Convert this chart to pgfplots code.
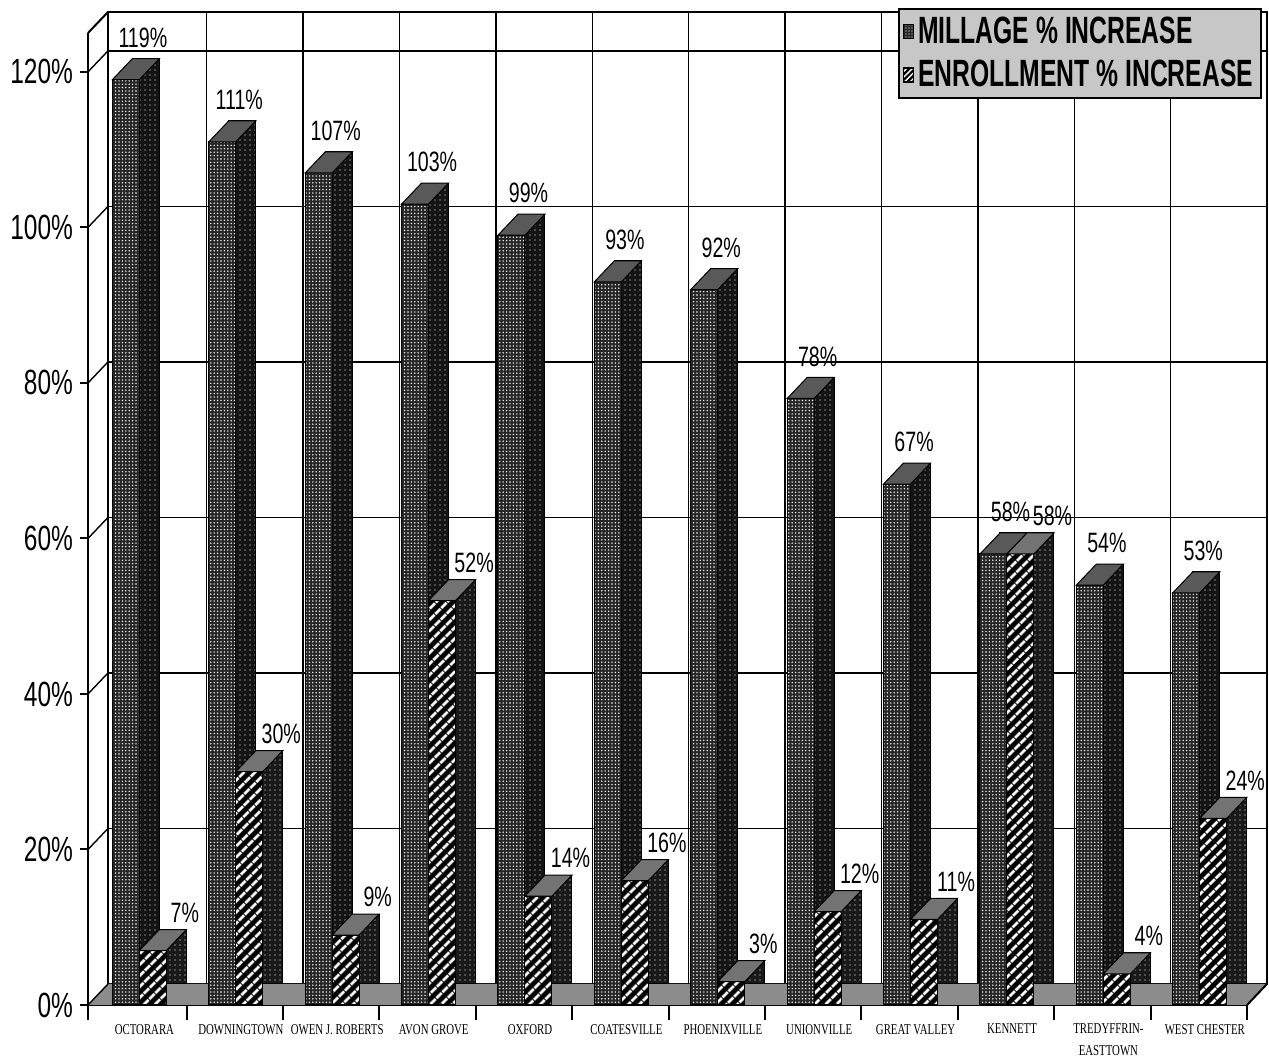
\documentclass[border=0pt]{standalone}
\usepackage{pgfplots}
\pgfplotsset{compat=1.18}
\usepackage{pgfplotstable}
\usetikzlibrary{patterns,patterns.meta}
\usepackage{fontspec}
\setmainfont{Liberation Sans}
\newfontfamily\nsans[FakeStretch=0.7]{Liberation Sans}
\newfontfamily\nserif[FakeStretch=0.72]{Liberation Serif}
\newfontfamily\nlegend[FakeStretch=0.65]{Liberation Sans}

\pgfdeclareplotmark{topM}{%
  \pgfpathmoveto{\pgfpoint{-6.75pt}{0pt}}%
  \pgfpathlineto{\pgfpoint{6.75pt}{0pt}}%
  \pgfpathlineto{\pgfpoint{16.75pt}{10.5pt}}%
  \pgfpathlineto{\pgfpoint{3.25pt}{10.5pt}}%
  \pgfpathclose
  \pgfsetfillcolor{black!65}\pgfsetstrokecolor{black}\pgfsetlinewidth{0.5pt}%
  \pgfusepathqfillstroke}
\pgfdeclareplotmark{topE}{%
  \pgfpathmoveto{\pgfpoint{-6.75pt}{0pt}}%
  \pgfpathlineto{\pgfpoint{6.75pt}{0pt}}%
  \pgfpathlineto{\pgfpoint{16.75pt}{10.5pt}}%
  \pgfpathlineto{\pgfpoint{3.25pt}{10.5pt}}%
  \pgfpathclose
  \pgfsetfillcolor{black!55}\pgfsetstrokecolor{black}\pgfsetlinewidth{0.5pt}%
  \pgfusepathqfillstroke}

\pgfplotstableread{
idx mill enr
0 119 7
1 111 30
2 107 9
3 103 52
4 99 14
5 93 16
6 92 3
7 78 12
8 67 11
9 58 58
10 54 4
11 53 24
}\data

\begin{document}
\begin{tikzpicture}
% back wall
\begin{axis}[name=back, xshift=10pt, yshift=10.5pt,
  scale only axis, width=579.5pt, height=486pt,
  xmin=-0.523, xmax=11.5, ymin=0, ymax=125,
  xtick={0.5,1.5,...,10.5}, ytick={0,20,...,120},
  xticklabels={}, yticklabels={}, major tick length=0pt,
  grid=major, major grid style={black, line width=0.7pt},
  axis line style={black, line width=1pt}]
\addplot[draw=none] coordinates {(0,0)};
\end{axis}
% front
\begin{axis}[name=front,
  scale only axis, width=579.5pt, height=486pt,
  xmin=-0.523, xmax=11.5, ymin=0, ymax=125, clip=false,
  axis x line*=bottom, axis y line*=left,
  axis line style={black, line width=1pt, -},
  tick align=outside,
  /pgf/number format/assume math mode=true,
  xtick={0,...,11},
  xticklabels={OCTORARA, DOWNINGTOWN, {OWEN J. ROBERTS}, {AVON GROVE}, OXFORD, COATESVILLE, PHOENIXVILLE, UNIONVILLE, {GREAT VALLEY}, KENNETT, {TREDYFFRIN-\\[3pt]EASTTOWN}, {WEST CHESTER}},
  xticklabel style={font=\nserif\fontsize{7.5}{8}\selectfont, align=center, xshift=3pt, yshift=-2pt},
  minor xtick={-0.523,0.5,1.5,...,11.5},
  every major x tick/.append style={draw=none},
  every minor x tick/.append style={black, line width=1pt},
  minor tick length=7.5pt, major tick length=4pt,
  ytick={0,20,...,120},
  yticklabel={\pgfmathprintnumber{\tick}\%},
  yticklabel style={font=\nsans\fontsize{17.5}{18}\selectfont},
  every major y tick/.append style={black, line width=1pt},
  legend cell align=left,
  legend style={at={(1.013,1.026)}, anchor=north east, fill=black!22, draw=black,
    line width=1pt, font=\nlegend\bfseries\fontsize{19}{20}\selectfont,
    inner sep=2pt, row sep=3pt},
  legend image code/.code={\draw[#1, line width=0.6pt] (0pt,-3.5pt) rectangle (5pt,3.5pt);},
]
% floor
\fill[black!45] (axis cs:-0.523,0) -- (axis cs:11.5,0) -- ([shift={(10pt,10.5pt)}]axis cs:11.5,0) -- ([shift={(10pt,10.5pt)}]axis cs:-0.523,0) -- cycle;
\draw[line width=1pt] (axis cs:11.5,0) -- ++(10pt,10.5pt);
\pgfplotsinvokeforeach{0,20,40,60,80,100,120}{\draw[line width=0.7pt] (axis cs:-0.523,#1) -- ++(10pt,10.5pt);}
\draw[line width=1pt] (axis cs:-0.523,125) -- ++(10pt,10.5pt);
% millage depth
\addplot[ybar, bar width=13.5pt, bar shift=0pt, xshift=10pt, yshift=10.5pt, draw=black, line width=0.5pt,
  fill=black!92, postaction={pattern={Dots[distance=2.5pt, radius=0.3pt]}, pattern color=white}, forget plot]
  table[x expr=\thisrow{idx}-0.13, y=mill]{\data};
% millage front
\addplot[ybar, bar width=13.5pt, bar shift=0pt, draw=black, line width=0.5pt,
  fill=black!85, postaction={pattern={Dots[distance=1.7pt, radius=0.38pt]}, pattern color=white},
  mark=topM, point meta=y,
  nodes near coords={\pgfmathprintnumber{\pgfplotspointmeta}\%},
  nodes near coords style={font=\nsans\fontsize{14}{15}\selectfont, anchor=center, xshift=8.5pt, yshift=21pt, text=black},
  forget plot]
  table[x expr=\thisrow{idx}-0.13, y=mill]{\data};
% enrollment depth
\addplot[ybar, bar width=13.5pt, bar shift=0pt, xshift=10pt, yshift=10.5pt, draw=black, line width=0.5pt,
  fill=black!90, postaction={pattern={Dots[distance=2.5pt, radius=0.35pt]}, pattern color=white}, forget plot]
  table[x expr=\thisrow{idx}+0.15, y=enr]{\data};
% enrollment front
\addplot[ybar, bar width=13.5pt, bar shift=0pt, draw=black, line width=0.5pt,
  fill=black, postaction={pattern={Lines[angle=45, distance=4pt, line width=1.5pt]}, pattern color=white},
  mark=topE, point meta=y,
  nodes near coords={\pgfmathprintnumber{\pgfplotspointmeta}\%},
  nodes near coords style={font=\nsans\fontsize{14}{15}\selectfont, anchor=center, xshift=16pt, yshift=19pt, text=black},
  forget plot]
  table[x expr=\thisrow{idx}+0.15, y=enr]{\data};
\addlegendimage{fill=black!85, draw=black, postaction={pattern={Dots[distance=1.5pt, radius=0.35pt]}, pattern color=white}}
\addlegendentry{MILLAGE \% INCREASE}
\addlegendimage{fill=black, draw=black, postaction={pattern={Lines[angle=45, distance=2pt, line width=0.7pt]}, pattern color=white}}
\addlegendentry{ENROLLMENT \% INCREASE}
\end{axis}
\pgfresetboundingbox
\path ([shift={(-44pt,-27.5pt)}]front.south west) rectangle ([shift={(590.5pt,502.5pt)}]front.south west);
\end{tikzpicture}
\end{document}
